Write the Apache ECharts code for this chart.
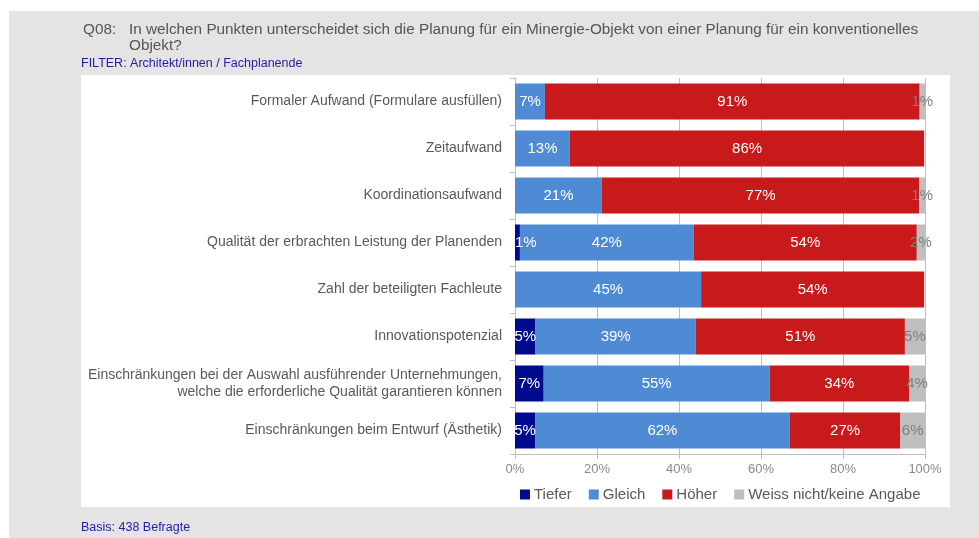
<!DOCTYPE html>
<html>
<head>
<meta charset="utf-8">
<script src="https://cdn.jsdelivr.net/npm/echarts@6/dist/echarts.min.js"></script>
<style>
  html, body { margin: 0; padding: 0; background: #ffffff; }
  #chart { width: 979px; height: 538px; }
</style>
</head>
<body>
<div id="chart"></div>
<script>
var categories = [
  'Formaler Aufwand (Formulare ausfüllen)',
  'Zeitaufwand',
  'Koordinationsaufwand',
  'Qualität der erbrachten Leistung der Planenden',
  'Zahl der beteiligten Fachleute',
  'Innovationspotenzial',
  'Einschränkungen bei der Auswahl ausführender Unternehmungen,\nwelche die erforderliche Qualität garantieren können',
  'Einschränkungen beim Entwurf (Ästhetik)'
];
var tiefer     = [0,    0,    0,    1.2,  0,    5.0,  7.0,  4.9];
var gleich     = [7.3,  13.4, 21.2, 42.4, 45.4, 39.1, 55.1, 62.1];
var hoeher     = [91.4, 86.4, 77.4, 54.4, 54.4, 51.0, 34.0, 27.0];
var weissNicht = [1.3,  0,    1.4,  2.0,  0,    4.9,  3.9,  6.0];
var xTicks = [0, 20, 40, 60, 80, 100];

var chart = echarts.init(document.getElementById('chart'));

function pct(p) {
  return p.value >= 0.5 ? Math.round(p.value) + '%' : '';
}

function barSeries(name, data, color, labelColor, clampLeft) {
  return {
    name: name,
    type: 'bar',
    stack: 'total',
    barWidth: 36,
    // very thin first segments keep their label inside the plot
    data: data.map(function (v) {
      if (clampLeft && v > 0 && v < 3) {
        return { value: v, label: { position: 'insideLeft', distance: 0 } };
      }
      return v;
    }),
    itemStyle: { color: color },
    label: {
      show: true,
      position: 'inside',
      color: labelColor,
      fontSize: 15,
      fontFamily: 'Liberation Sans',
      formatter: pct
    },
    emphasis: { disabled: true }
  };
}

var titleFont = { fontSize: 15.3, lineHeight: 16, fontWeight: 'normal', color: '#555555', fontFamily: 'Liberation Sans' };
var noteFont = { fontSize: 12.5, fontWeight: 'normal', color: '#1f1f9c', fontFamily: 'Liberation Sans' };

var option = {
  animation: false,
  backgroundColor: '#ffffff',
  graphic: [
    { type: 'rect', z: -10, shape: { x: 9, y: 11, width: 970, height: 527 }, style: { fill: '#e4e4e4' } },
    { type: 'rect', z: -9, shape: { x: 81, y: 75, width: 869, height: 432 }, style: { fill: '#ffffff' } }
  ],
  title: [
    { text: 'Q08:', left: 83, top: 22, padding: 0, textStyle: titleFont },
    { text: 'In welchen Punkten unterscheidet sich die Planung für ein Minergie-Objekt von einer Planung für ein konventionelles\nObjekt?', left: 129, top: 22, padding: 0, textStyle: titleFont },
    { text: 'FILTER: Architekt/innen / Fachplanende', left: 81, top: 57, padding: 0, textStyle: noteFont },
    { text: 'Basis: 438 Befragte', left: 81, top: 521, padding: 0, textStyle: noteFont }
  ],
  legend: {
    data: ['Tiefer', 'Gleich', 'Höher', 'Weiss nicht/keine Angabe'],
    left: 515,
    top: 482,
    itemWidth: 10,
    itemHeight: 10,
    itemGap: 17,
    icon: 'rect',
    textStyle: { fontSize: 15, color: '#595959', fontFamily: 'Liberation Sans', padding: [0, 0, 0, -1] }
  },
  grid: { left: 515, right: 54, top: 78, height: 376, containLabel: false },
  xAxis: {
    type: 'value',
    min: 0,
    max: 100,
    interval: 20,
    axisLine: { show: true, lineStyle: { color: '#bfbfbf' } },
    axisTick: { show: true, length: 5, lineStyle: { color: '#bfbfbf' } },
    splitLine: { show: true, lineStyle: { color: '#bfbfbf' } },
    axisLabel: {
      color: '#8a8a8a',
      fontSize: 13,
      fontFamily: 'Liberation Sans',
      margin: 9,
      formatter: function (v) { return xTicks.indexOf(v) >= 0 ? v + '%' : ''; }
    }
  },
  yAxis: {
    type: 'category',
    inverse: true,
    data: categories,
    axisLine: { show: true, lineStyle: { color: '#bfbfbf' } },
    axisTick: { show: true, length: 5, lineStyle: { color: '#bfbfbf' } },
    axisLabel: {
      color: '#595959',
      fontSize: 14,
      lineHeight: 17,
      align: 'right',
      fontFamily: 'Liberation Sans',
      margin: 13
    }
  },
  series: [
    barSeries('Tiefer', tiefer, '#000a8f', '#ffffff', true),
    barSeries('Gleich', gleich, '#4f8bd5', '#ffffff', false),
    barSeries('Höher', hoeher, '#c8191b', '#ffffff', false),
    barSeries('Weiss nicht/keine Angabe', weissNicht, '#bfbfbf', '#7f7f7f', false)
  ]
};

chart.setOption(option);
</script>
</body>
</html>
